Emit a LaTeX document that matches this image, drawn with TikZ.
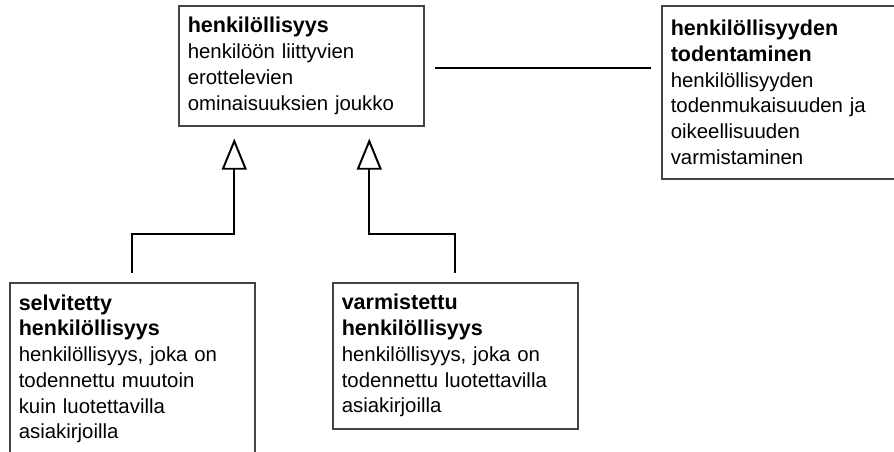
\documentclass[tikz,border=0pt]{standalone}
\usepackage{fontspec}
\setmainfont{Liberation Sans}
\usepackage{tikz}
\usetikzlibrary{positioning, arrows.meta, calc}
\definecolor{FrameA}{HTML}{444444}
\definecolor{LineA}{HTML}{000000}
\tikzset{
  box/.style={draw=FrameA, line width=1.1pt, anchor=north west, align=left,
              text width=5.675cm, inner xsep=0.225cm, inner ysep=0pt,
              font=\fontsize{14.5pt}{18.3pt}\selectfont},
  inh/.style={-{Triangle[open, length=0.78cm, width=0.625cm]}, line width=1.4pt,
              draw=LineA, shorten <=0.225cm, shorten >=0.3cm},
  assoc/.style={line width=1.4pt, draw=LineA, shorten <=0.25cm, shorten >=0.25cm},
}
\newcommand{\term}[1]{{\fontsize{15.3pt}{18.3pt}\selectfont\bfseries #1}}

\begin{document}
\begin{tikzpicture}
  \useasboundingbox (0,0) rectangle (22.35,11.3);
  \clip (0,0) rectangle (22.35,11.3);

  % ---- concepts ----
  \node[box, minimum height=3cm] (hen) at (4.45,11.175)
       {\term{henkilöllisyys}\\henkilöön liittyvien\\erottelevien\\ominaisuuksien joukko};
  \node[box, minimum height=4.325cm, text width=5.8cm] (tod) at (16.525,11.175)
       {\term{henkilöllisyyden}\\\term{todentaminen}\\henkilöllisyyden\\todenmukaisuuden ja\\oikeellisuuden\\varmistaminen};
  \node[box, minimum height=4.3cm] (sel) at (0.225,4.25)
       {\term{selvitetty}\\\term{henkilöllisyys}\\henkilöllisyys, joka on\\todennettu muutoin\\kuin luotettavilla\\asiakirjoilla};
  \node[box, minimum height=3.65cm] (var) at (8.3,4.25)
       {\term{varmistettu}\\\term{henkilöllisyys}\\henkilöllisyys, joka on\\todennettu luotettavilla\\asiakirjoilla};

  % ---- relations ----
  \coordinate (hL) at ([xshift=-1.675cm]hen.south);
  \coordinate (hR) at ([xshift=1.7cm]hen.south);
  \draw[inh] (sel.north) -- ++(0,1.2) -| (hL);
  \draw[inh] (var.north) -- ++(0,1.2) -| (hR);
  \draw[assoc] ([yshift=-0.05cm]hen.east) -- ([yshift=-0.05cm]hen.east -| tod.west);
\end{tikzpicture}
\end{document}
